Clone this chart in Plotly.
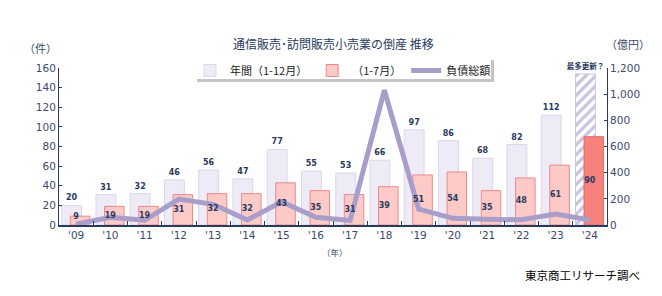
import plotly.graph_objects as go

# ---- data ----
years = ["'09", "'10", "'11", "'12", "'13", "'14", "'15", "'16",
         "'17", "'18", "'19", "'20", "'21", "'22", "'23", "'24"]
annual = [20, 31, 32, 46, 56, 47, 77, 55, 53, 66, 97, 86, 68, 82, 112, 154]
annual_labels = ["20", "31", "32", "46", "56", "47", "77", "55", "53", "66",
                 "97", "86", "68", "82", "112", "最多更新？"]
jan_jul = [9, 19, 19, 31, 32, 32, 43, 35, 31, 39, 51, 54, 35, 48, 61, 90]
debt = [6, 59, 36, 198, 158, 38, 178, 59, 35, 1030, 122, 51, 43, 40, 84, 38]

NAVY = "#283a5e"
TICK = "#3b4a6b"
NUM_FONT = "DejaVu Sans, Noto Sans CJK JP"
JP_FONT = "Noto Sans CJK JP, DejaVu Sans"

n = len(years)
pink_fill = ["#fdcac7"] * (n - 1) + ["#f7817c"]
pink_line = ["#e88a8a"] * (n - 1) + ["#e06a66"]

fig = go.Figure()

# annual (1-12) bars, actual years
fig.add_trace(go.Bar(
    name="年間（1-12月）", x=years[:-1], y=annual[:-1], yaxis="y",
    width=0.58, offset=-0.42,
    marker=dict(color="#eeeaf6", line=dict(color="#dcd5ec", width=1)),
    text=annual_labels[:-1], textposition="outside", cliponaxis=False,
    constraintext="none",
    textfont=dict(color=NAVY, size=8, family=NUM_FONT, weight="bold"),
    textangle=0, hoverinfo="skip",
))

# hatched projection bar for the latest year
fig.add_trace(go.Bar(
    name="年間（予想）", x=years[-1:], y=annual[-1:], yaxis="y",
    width=0.58, offset=-0.42, showlegend=False,
    marker=dict(color="#c9c0e0", line=dict(color="#cfc7e4", width=1),
                pattern=dict(shape="/", bgcolor="#ffffff", size=7, solidity=0.45,
                             fillmode="replace")),
    text=annual_labels[-1:], textposition="outside", cliponaxis=False,
    constraintext="none",
    textfont=dict(color=NAVY, size=7.5, family=JP_FONT, weight="bold"),
    textangle=0, hoverinfo="skip",
))

fig.add_trace(go.Bar(
    name="（1-7月）", x=years, y=jan_jul, yaxis="y",
    width=0.57, offset=-0.17,
    marker=dict(color=pink_fill, line=dict(color=pink_line, width=1)),
    hoverinfo="skip",
))

fig.add_trace(go.Scatter(
    name="負債総額", x=years, y=debt, yaxis="y2", mode="lines",
    line=dict(color="#a89ec9", width=5), hoverinfo="skip",
))

# labels for the 1-7 bars, drawn on top of the line
pink_pos = ["middle center"] * n
pink_pos[0] = "top center"
fig.add_trace(go.Scatter(
    x=years, y=[v / 2 for v in jan_jul], yaxis="y3", mode="text",
    text=[str(v) for v in jan_jul], textposition=pink_pos,
    textfont=dict(color=NAVY, size=8, family=NUM_FONT, weight="bold"),
    showlegend=False, hoverinfo="skip", cliponaxis=False,
))

def px_x(p):
    return (p - 59) / 548

def px_y(p):
    return (225 - p) / 157

fig.update_layout(
    width=662, height=296,
    margin=dict(l=59, r=55, t=68, b=71),
    paper_bgcolor="white", plot_bgcolor="white",
    barmode="overlay",
    font=dict(family=NUM_FONT, color=TICK, size=10.5),
    showlegend=True,
    legend=dict(orientation="h", x=px_x(190), y=px_y(56), xanchor="left", yanchor="top",
                bgcolor="rgba(0,0,0,0)", borderwidth=0,
                font=dict(family=JP_FONT, size=11, color="#222"),
                itemwidth=30, tracegroupgap=0, traceorder="normal"),
    xaxis=dict(type="category", categoryorder="array", categoryarray=years,
               range=[-0.5, n - 0.5], showline=True,
               linecolor=NAVY, linewidth=1.5, ticks="inside", tickson="boundaries",
               ticklen=4, tickcolor=NAVY, showgrid=False,
               tickfont=dict(family=NUM_FONT, size=10.5, color=TICK)),
    yaxis=dict(range=[0, 160], dtick=20, showline=True, linecolor=NAVY, linewidth=1,
               ticks="inside", ticklen=3, tickcolor=NAVY, showgrid=False, zeroline=False,
               tickfont=dict(family=NUM_FONT, size=10.5, color=TICK)),
    yaxis2=dict(range=[0, 1200], dtick=200, overlaying="y", side="right",
                showline=True, linecolor=NAVY, linewidth=1, ticks="inside", ticklen=3,
                tickcolor=NAVY, showgrid=False, zeroline=False, tickformat=",d",
                tickfont=dict(family=NUM_FONT, size=10.5, color=TICK)),
    yaxis3=dict(range=[0, 160], overlaying="y", visible=False),
    shapes=[
        dict(type="rect", xref="paper", yref="paper", layer="above",
             x0=px_x(197), x1=px_x(494), y0=px_y(82), y1=px_y(60),
             fillcolor="rgba(90,90,100,0.35)", line=dict(width=0)),
        dict(type="rect", xref="paper", yref="paper", layer="above",
             x0=px_x(194), x1=px_x(491), y0=px_y(79), y1=px_y(57),
             fillcolor="white", line=dict(width=0)),
    ],
    annotations=[
        dict(text="通信販売･訪問販売小売業の倒産 推移", xref="paper", yref="paper",
             x=px_x(333), y=px_y(43), xanchor="center", yanchor="middle", showarrow=False,
             font=dict(family=JP_FONT, size=12, color=NAVY)),
        dict(text="（件）", xref="paper", yref="paper", x=px_x(40), y=px_y(48),
             xanchor="center", yanchor="middle", showarrow=False,
             font=dict(family=JP_FONT, size=11, color=TICK)),
        dict(text="（億円）", xref="paper", yref="paper", x=px_x(628), y=px_y(44),
             xanchor="center", yanchor="middle", showarrow=False,
             font=dict(family=JP_FONT, size=11, color=TICK)),
        dict(text="（年）", xref="paper", yref="paper", x=px_x(335), y=px_y(252),
             xanchor="center", yanchor="middle", showarrow=False,
             font=dict(family=JP_FONT, size=8.5, color=TICK)),
        dict(text="東京商工リサーチ調べ", xref="paper", yref="paper", x=px_x(642),
             xanchor="right", y=px_y(275), yanchor="middle", showarrow=False,
             font=dict(family=JP_FONT, size=11.5, color="#000")),
    ],
)

fig.write_html("out.html")
